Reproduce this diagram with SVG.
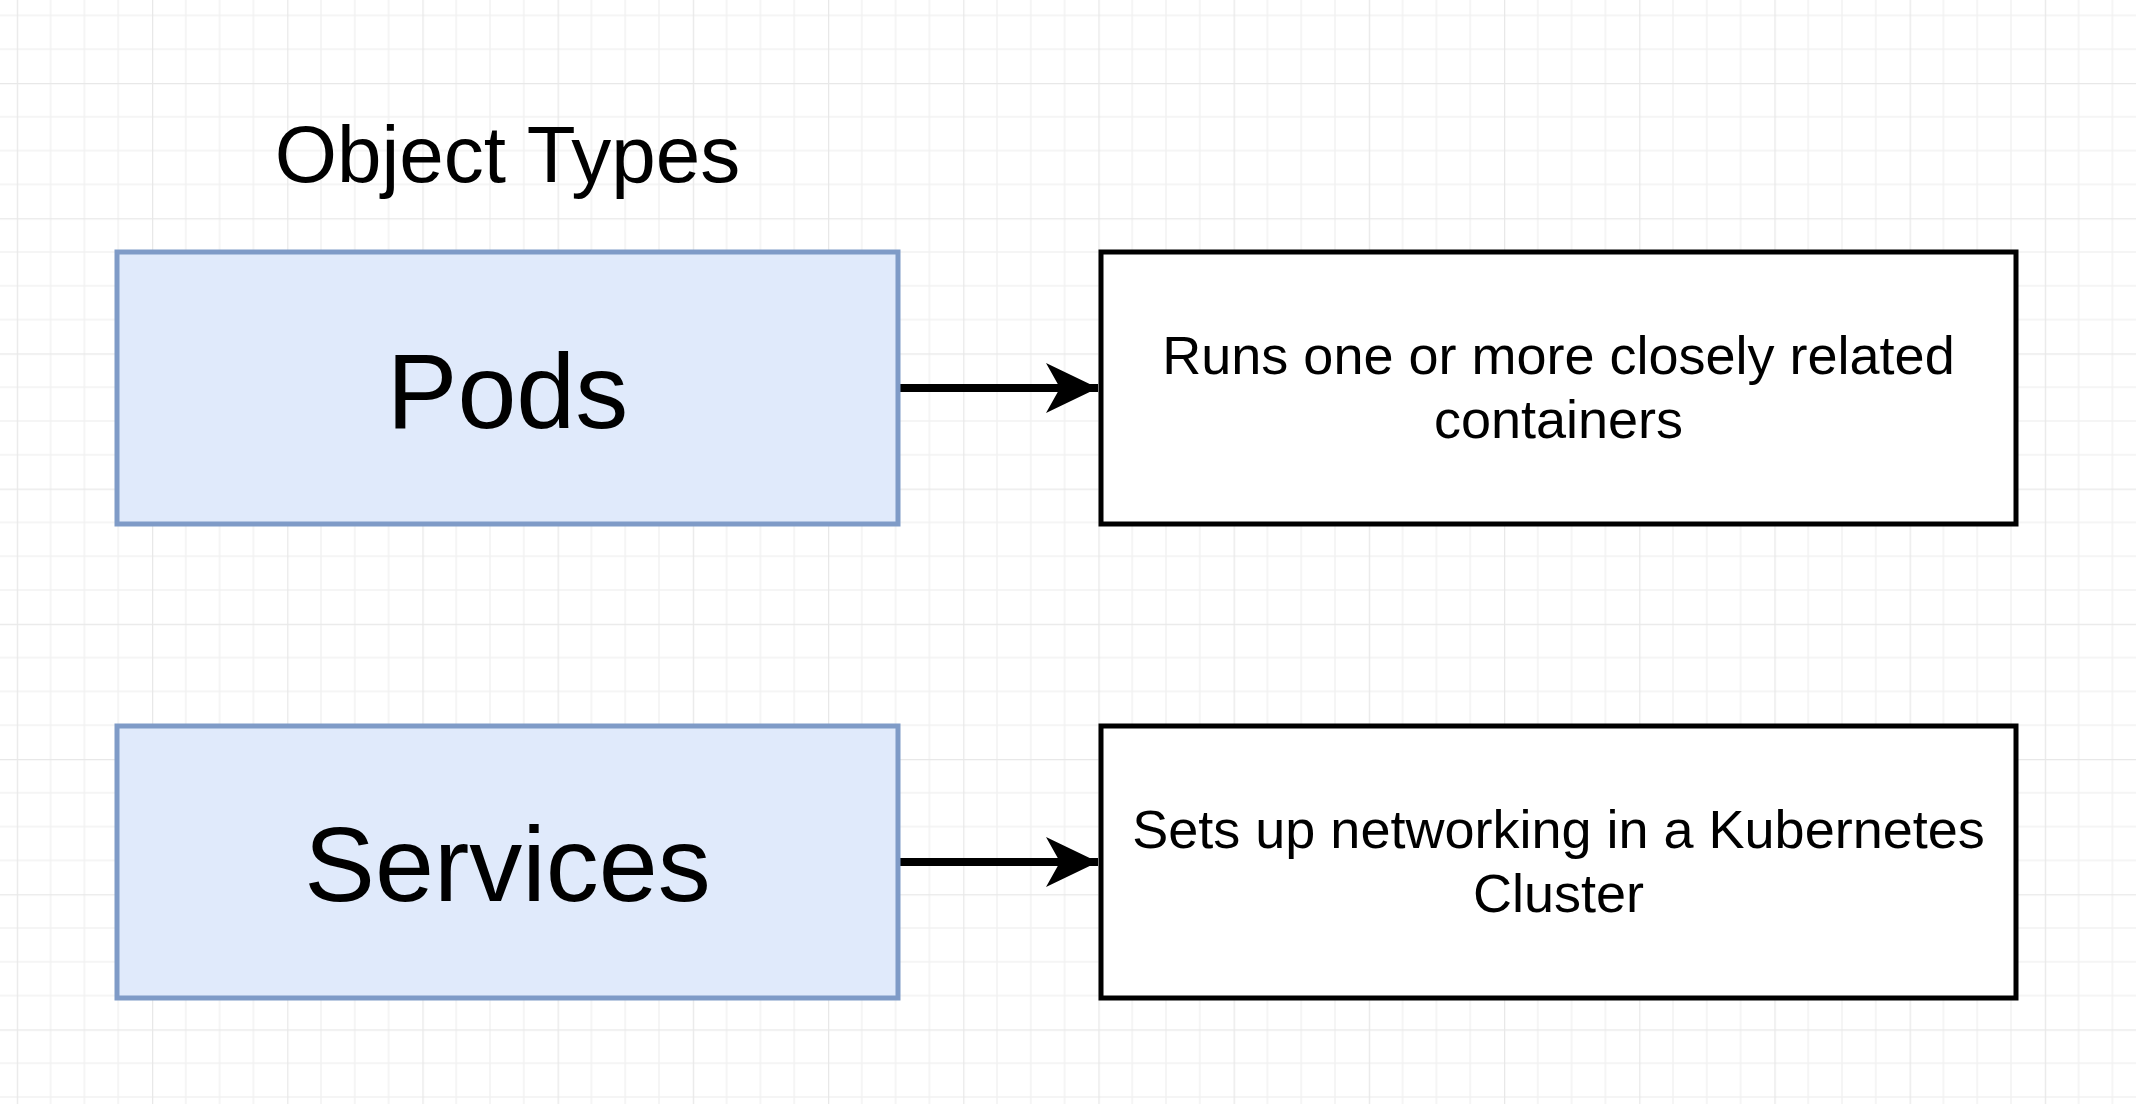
<svg xmlns="http://www.w3.org/2000/svg" width="2136" height="1104" viewBox="0 0 2136 1104">
<style>
.blue{fill:#e0eafb;stroke:#7f9bc7;stroke-width:5}
.plain{fill:#ffffff;stroke:#000000;stroke-width:5}
.big{font-family:"Liberation Sans",Arial,sans-serif;font-size:106px;fill:#000;text-anchor:middle}
.desc{font-family:"Liberation Sans",Arial,sans-serif;font-size:54px;fill:#000;text-anchor:middle}
.title{font-family:"Liberation Sans",Arial,sans-serif;font-size:80px;fill:#000;text-anchor:middle}
.edge{stroke:#000;stroke-width:8;fill:none}
</style>
<defs>
<pattern id="grid" patternUnits="userSpaceOnUse" x="16.8" y="-52.2" width="135.2" height="135.2">
<path d="M33.8 0V135.2M67.6 0V135.2M101.4 0V135.2M0 33.8H135.2M0 67.6H135.2M0 101.4H135.2" stroke="#f2f2f2" stroke-width="1.5" fill="none"/>
<path d="M0.5 0V135.2M0 0.5H135.2" stroke="#e8e8e8" stroke-width="1.5" fill="none"/>
</pattern>
<marker id="arrow" markerUnits="userSpaceOnUse" markerWidth="60" markerHeight="60" refX="52" refY="25" orient="auto">
<path d="M0 0 L52 25 L0 50 L14 25 Z" fill="#000"/>
</marker>
</defs>
<rect width="2136" height="1104" fill="#ffffff"/>
<rect width="2136" height="1104" fill="url(#grid)"/>
<g id="title"><text class="title" x="507.5" y="182">Object Types</text></g>
<g id="connectors">
<path class="edge" d="M898 388 H1098" marker-end="url(#arrow)"/>
<path class="edge" d="M898 862 H1098" marker-end="url(#arrow)"/>
</g>
<g id="pods">
<rect class="blue" x="117" y="252" width="781" height="272"/>
<text class="big" x="507.5" y="428">Pods</text>
</g>
<g id="pods-desc">
<rect class="plain" x="1101" y="252" width="915" height="272"/>
<text class="desc" x="1558.5" y="374">Runs one or more closely related</text>
<text class="desc" x="1558.5" y="438">containers</text>
</g>
<g id="services">
<rect class="blue" x="117" y="726" width="781" height="272"/>
<text class="big" x="507.5" y="901">Services</text>
</g>
<g id="services-desc">
<rect class="plain" x="1101" y="726" width="915" height="272"/>
<text class="desc" x="1558.5" y="848">Sets up networking in a Kubernetes</text>
<text class="desc" x="1558.5" y="912">Cluster</text>
</g>
</svg>
